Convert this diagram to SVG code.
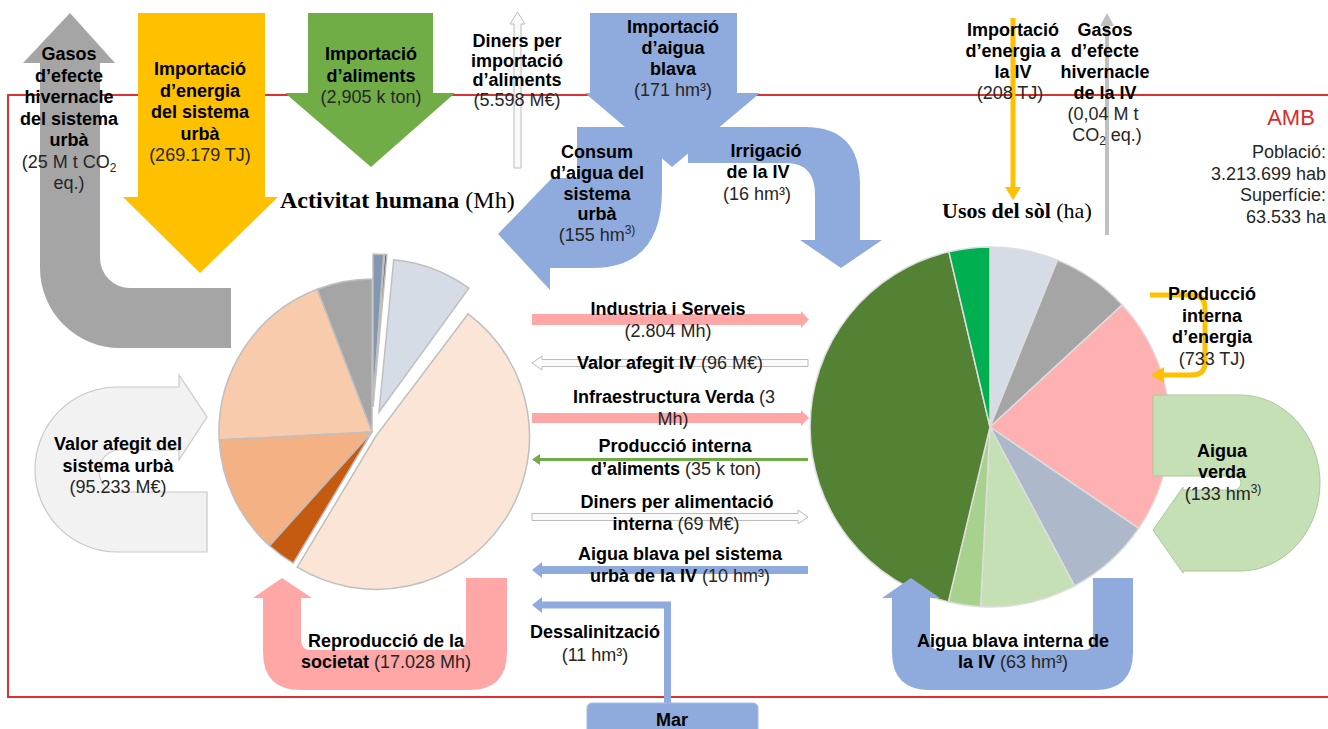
<svg xmlns="http://www.w3.org/2000/svg" width="1328" height="729" viewBox="0 0 1328 729">
  <style>
    text{font-family:"Liberation Sans",Arial,sans-serif;font-size:18px;text-anchor:middle;fill:#000;font-weight:bold}
    .rg{font-weight:normal;fill:#262626}
    .ttl{font-family:"Liberation Serif","Times New Roman",serif;text-anchor:start;font-size:24px}
    .ttl .rg{fill:#000}
    .sm{font-size:12px}
    .info{font-weight:normal;fill:#262626;text-anchor:end;font-size:18px}
    .pieL path{stroke:#bfbfbf;stroke-width:1.5}
    .pieR path{stroke:#dddddd;stroke-width:1.5}
    .hollow{fill:#fafafa;stroke:#bcbcbc;stroke-width:1}
    .blue{fill:#8faadc}
    .pink{fill:#ffa7a7}
  </style>

  <!-- boundary of the metropolitan area -->
  <g id="frame">
    <rect x="8" y="95" width="1340" height="602" fill="none" stroke="#e03131" stroke-width="2"/>
  </g>

  <!-- Activitat humana pie -->
  <g id="node-activitat">
    <g class="pieL">
      <path d="M372,432 L317.2,289.2 A153,153 0 0 1 372,279 Z" fill="#a5a5a5"/>
      <path d="M372,432 L219.2,440 A153,153 0 0 1 317.2,289.2 Z" fill="#f8cbad"/>
      <path d="M372,432 L269.6,545.7 A153,153 0 0 1 219.2,440 Z" fill="#f4b183"/>
      <path d="M372,432 L293.2,563.2 A153,153 0 0 1 269.6,545.7 Z" fill="#c55a11"/>
      <path d="M376,436 L468.1,313.8 A153,153 0 0 1 297.2,567.2 Z" fill="#fbe5d6"/>
      <path d="M379,412 L393.7,259.7 A153,153 0 0 1 468.9,288.2 Z" fill="#d6dce5"/>
      <path d="M373,407 L373,254 A153,153 0 0 1 383.7,254.4 Z" fill="#8497b0"/>
      <path d="M373,407 L384.7,254.4 A153,153 0 0 1 386.9,254.6 Z" fill="#404040"/>
    </g>
    <text class="ttl" x="280" y="208">Activitat humana<tspan class="rg"> (Mh)</tspan></text>
  </g>

  <!-- Usos del sòl pie -->
  <g id="node-usos">
    <g class="pieR">
      <path d="M990,427 L990,247 A180,180 0 0 1 1057.4,260.1 Z" fill="#d6dce5"/>
      <path d="M990,427 L1057.4,260.1 A180,180 0 0 1 1122.3,304.9 Z" fill="#a5a5a5"/>
      <path d="M990,427 L1122.3,304.9 A180,180 0 0 1 1138.7,528.4 Z" fill="#ffb0b0"/>
      <path d="M990,427 L1138.7,528.4 A180,180 0 0 1 1074.5,585.9 Z" fill="#adb9ca"/>
      <path d="M990,427 L1074.5,585.9 A180,180 0 0 1 980.6,606.8 Z" fill="#c5e0b4"/>
      <path d="M990,427 L980.6,606.8 A180,180 0 0 1 948.3,602.1 Z" fill="#a9d18e"/>
      <path d="M990,427 L948.3,602.1 A180,180 0 0 1 948.9,251.8 Z" fill="#548235"/>
      <path d="M990,427 L948.9,251.8 A180,180 0 0 1 990,247 Z" fill="#00b050"/>
    </g>
    <text class="ttl" x="942" y="218" style="font-size:22px">Usos del sòl<tspan class="rg"> (ha)</tspan></text>
  </g>

  <!-- area summary -->
  <g id="node-amb">
    <text x="1291" y="125" style="font-weight:normal;font-size:22px;fill:#d92b2b">AMB</text>
    <text class="info" x="1326" y="158">Població:</text>
    <text class="info" x="1326" y="179.5">3.213.699 hab</text>
    <text class="info" x="1326" y="201">Superfície:</text>
    <text class="info" x="1326" y="222.5">63.533 ha</text>
  </g>

  <!-- flows -->
  <g id="connectors">
    <!-- greenhouse gases of the urban system -->
    <path d="M231,288 H130 A30,30 0 0 1 100,258 V63 H115 L70,13 L23,63 H40 V268 A80,80 0 0 0 120,348 H231 Z" fill="#a5a5a5"/>
    <!-- energy import -->
    <path d="M138,13 H265 V197 H278 L200,273 L123,197 H138 Z" fill="#ffc000"/>
    <!-- food import -->
    <path d="M308,13 H433 V93 H455 L371,167 L285,93 H308 Z" fill="#70ad47"/>
    <!-- money for food import -->
    <path class="hollow" d="M514,168 V24 H510 L517.5,12 L525,24 H521 V168 Z"/>
    <!-- blue water import and its two branches -->
    <path class="blue" d="M590,13 H737 V93 H760 L672,167 L585,93 H590 Z"/>
    <path class="blue" d="M577,127 H662 V190 Q662,268 592,268 H550 V290 L498,234 L552,178 H577 Z"/>
    <path class="blue" d="M688,127 H805 Q860,127 860,185 V240 H882 L841,268 L800,240 H815 V195 Q815,163 786,163 H688 Z"/>
    <!-- energy import and gases of the green infrastructure -->
    <line x1="1013" y1="18" x2="1013" y2="189" stroke="#ffc000" stroke-width="5"/>
    <path d="M1005,187 H1021 L1013,200 Z" fill="#ffc000"/>
    <line x1="1107" y1="235" x2="1107" y2="24" stroke="#c0c0c0" stroke-width="4"/>
    <path d="M1100,26 H1114 L1107,13 Z" fill="#c0c0c0"/>
    <!-- internal energy production -->
    <path d="M1150,295 H1192 Q1205,295 1205,308 V362 Q1205,375 1192,375 H1162" fill="none" stroke="#ffc000" stroke-width="5"/>
    <path d="M1164,367 V383 L1151,375 Z" fill="#ffc000"/>
    <!-- green water -->
    <path d="M1153,395 H1240 A80,88 0 0 1 1240,571 H1183 V573 L1153,530 L1183,487 V490 H1234 A7,7 0 0 0 1234,476 H1153 Z" fill="#c5e0b4" stroke="#aac99a" stroke-width="1"/>
    <!-- flows between the two systems -->
    <path class="pink" d="M532,314 H801 V311 L809,319.5 L801,328 V325 H532 Z"/>
    <path class="hollow" d="M808,359.5 H542 V356 L532,363 L542,370 V366.5 H808 Z"/>
    <path class="pink" d="M532,413 H801 V410 L809,418 L801,426 V423 H532 Z"/>
    <path d="M808,458 H540 V454 L532,459.5 L540,465 V461 H808 Z" fill="#70ad47"/>
    <path class="hollow" d="M532,513.5 H798 V510 L808,517 L798,524 V520.5 H532 Z"/>
    <path class="blue" d="M808,566 H542 V562 L532,570 L542,578 V574 H808 Z"/>
    <!-- desalination -->
    <path class="blue" d="M671,704 V601.5 H542 V597 L532,605 L542,613 V608.5 H664 V704 Z"/>
    <!-- value added of the urban system -->
    <path d="M207,492 V552 H117.5 A82.5,82.5 0 0 1 117.5,387 H179 V375 L207,417 L179,460 V450 H120 A21,21 0 0 0 120,492 Z" fill="#f2f2f2" stroke="#c8c8c8" stroke-width="1.2"/>
    <!-- reproduction of society -->
    <path class="pink" d="M466,578 H507 V652 Q507,690 469,690 H301 Q263,690 263,652 V598 H253 L282,578 L312,598 H301 V640 Q301,650 311,650 H456 Q466,650 466,640 Z"/>
    <!-- internal blue water -->
    <path class="blue" d="M1093,578 H1133 V652 Q1133,690 1095,690 H930 Q892,690 892,652 V598 H882 L911,578 L940,598 H930 V640 Q930,650 940,650 H1083 Q1093,650 1093,640 Z"/>
  </g>

  <!-- sea -->
  <g id="node-mar">
    <rect x="587" y="703" width="171" height="40" rx="5" fill="#8faadc" stroke="#a6bbe3" stroke-width="1"/>
    <text x="672" y="726">Mar</text>
  </g>

  <!-- flow labels -->
  <g id="labels">
    <text x="69"><tspan x="69" y="60">Gasos</tspan><tspan x="69" y="81.5">d’efecte</tspan><tspan x="69" y="103">hivernacle</tspan><tspan x="69" y="124.5">del sistema</tspan><tspan x="69" y="146">urbà</tspan><tspan class="rg" x="69" y="167.5">(25 M t CO<tspan class="sm" dy="4">2</tspan></tspan><tspan class="rg" x="69" y="189">eq.)</tspan></text>

    <text><tspan x="200" y="75">Importació</tspan><tspan x="200" y="96.5">d’energia</tspan><tspan x="200" y="118">del sistema</tspan><tspan x="200" y="139.5">urbà</tspan><tspan class="rg" x="200" y="161">(269.179 TJ)</tspan></text>

    <text><tspan x="371" y="60">Importació</tspan><tspan x="371" y="81.5">d’aliments</tspan><tspan class="rg" x="371" y="103">(2,905 k ton)</tspan></text>

    <text><tspan x="517" y="47">Diners per</tspan><tspan x="517" y="66.5">importació</tspan><tspan x="517" y="86">d’aliments</tspan><tspan class="rg" x="517" y="105.5">(5.598 M€)</tspan></text>

    <text><tspan x="673" y="33">Importació</tspan><tspan x="673" y="54">d’aigua</tspan><tspan x="673" y="75">blava</tspan><tspan class="rg" x="673" y="96">(171 hm³)</tspan></text>

    <text><tspan x="597" y="158">Consum</tspan><tspan x="597" y="179">d’aigua del</tspan><tspan x="597" y="199.5">sistema</tspan><tspan x="597" y="220">urbà</tspan><tspan class="rg" x="597" y="241">(155 hm<tspan class="sm" dy="-7">3)</tspan></tspan></text>

    <text><tspan x="766" y="157">Irrigació</tspan><tspan x="758" y="178">de la IV</tspan><tspan class="rg" x="757" y="199.5">(16 hm³)</tspan></text>

    <text><tspan x="1013" y="36">Importació</tspan><tspan x="1013" y="57">d’energia a</tspan><tspan x="1013" y="78">la IV</tspan><tspan class="rg" x="1010" y="99">(208 TJ)</tspan></text>

    <text><tspan x="1105" y="36">Gasos</tspan><tspan x="1105" y="57">d’efecte</tspan><tspan x="1105" y="78">hivernacle</tspan><tspan x="1105" y="99">de la IV</tspan><tspan class="rg" x="1103" y="120">(0,04 M t</tspan><tspan class="rg" x="1107" y="141">CO<tspan class="sm" dy="4">2</tspan><tspan dy="-4"> eq.)</tspan></tspan></text>

    <text><tspan x="668" y="315">Industria i Serveis</tspan><tspan class="rg" x="668" y="337">(2.804 Mh)</tspan></text>
    <text x="670" y="369">Valor afegit IV<tspan class="rg"> (96 M€)</tspan></text>
    <text><tspan x="674" y="403">Infraestructura Verda<tspan class="rg"> (3</tspan></tspan><tspan class="rg" x="673" y="425">Mh)</tspan></text>
    <text><tspan x="675" y="452">Producció interna</tspan><tspan x="676" y="475">d’aliments<tspan class="rg"> (35 k ton)</tspan></tspan></text>
    <text><tspan x="677" y="508">Diners per alimentació</tspan><tspan x="676" y="530">interna<tspan class="rg"> (69 M€)</tspan></tspan></text>
    <text><tspan x="680" y="560">Aigua blava pel sistema</tspan><tspan x="680" y="582">urbà de la IV<tspan class="rg"> (10 hm³)</tspan></tspan></text>
    <text><tspan x="595" y="638">Dessalinització</tspan><tspan class="rg" x="595" y="661">(11 hm³)</tspan></text>

    <text><tspan x="118" y="450">Valor afegit del</tspan><tspan x="118" y="472">sistema urbà</tspan><tspan class="rg" x="118" y="493">(95.233 M€)</tspan></text>

    <text><tspan x="386" y="647">Reproducció de la</tspan><tspan x="386" y="668">societat<tspan class="rg"> (17.028 Mh)</tspan></tspan></text>

    <text><tspan x="1013" y="647">Aigua blava interna de</tspan><tspan x="1013" y="668">la IV<tspan class="rg"> (63 hm³)</tspan></tspan></text>

    <text><tspan x="1212" y="300">Producció</tspan><tspan x="1212" y="322">interna</tspan><tspan x="1212" y="343">d’energia</tspan><tspan class="rg" x="1212" y="365">(733 TJ)</tspan></text>

    <text><tspan x="1222" y="457">Aigua</tspan><tspan x="1222" y="478">verda</tspan><tspan class="rg" x="1223" y="500">(133 hm<tspan class="sm" dy="-7">3)</tspan></tspan></text>
  </g>
</svg>
